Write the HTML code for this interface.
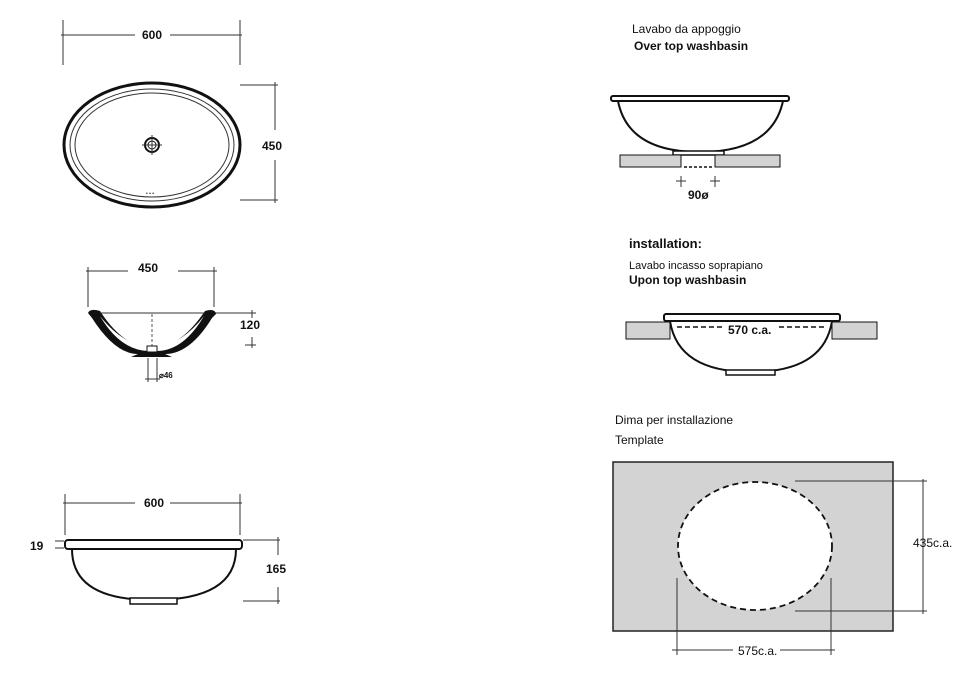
<!DOCTYPE html>
<html><head><meta charset="utf-8"><style>
html,body{margin:0;padding:0;background:#fff;width:963px;height:673px;overflow:hidden}
svg{display:block}
text{font-family:"Liberation Sans",Arial,sans-serif;fill:#111}
</style></head><body>
<svg width="963" height="673" viewBox="0 0 963 673" xmlns="http://www.w3.org/2000/svg">
<g stroke="#333" stroke-width="1" fill="none">
<!-- top view dims -->
<line x1="63" y1="20" x2="63" y2="65"/><line x1="240" y1="20" x2="240" y2="65"/>
<line x1="61" y1="35" x2="135" y2="35"/><line x1="170" y1="35" x2="242" y2="35"/>
<line x1="240" y1="85" x2="278" y2="85"/><line x1="240" y1="200" x2="278" y2="200"/>
<line x1="275" y1="82" x2="275" y2="130"/><line x1="275" y1="160" x2="275" y2="203"/>
</g>
<ellipse cx="152" cy="145" rx="88" ry="62" fill="#fff" stroke="#111" stroke-width="3"/>
<ellipse cx="152" cy="145" rx="82" ry="56" fill="none" stroke="#333" stroke-width="1"/>
<ellipse cx="152" cy="145" rx="77" ry="52" fill="none" stroke="#333" stroke-width="1"/>
<circle cx="152" cy="145" r="7" fill="none" stroke="#111" stroke-width="2"/>
<circle cx="152" cy="145" r="4" fill="none" stroke="#111" stroke-width="1"/>
<g stroke="#333"><line x1="142" y1="145" x2="162" y2="145"/><line x1="152" y1="135" x2="152" y2="155"/></g>
<text x="146" y="195" font-size="5">• • •</text>
<text x="142" y="39" font-size="12" font-weight="bold">600</text>
<text x="262" y="150" font-size="12" font-weight="bold">450</text>

<!-- section view -->
<g stroke="#333" stroke-width="1" fill="none">
<line x1="88" y1="267" x2="88" y2="307"/><line x1="214" y1="267" x2="214" y2="307"/>
<line x1="86" y1="271" x2="128" y2="271"/><line x1="178" y1="271" x2="217" y2="271"/>
<line x1="215" y1="313" x2="256" y2="313"/><line x1="245" y1="345" x2="256" y2="345"/>
<line x1="252" y1="310" x2="252" y2="318"/><line x1="252" y1="337" x2="252" y2="348"/>
<line x1="148" y1="358" x2="148" y2="382"/><line x1="157" y1="358" x2="157" y2="382"/>
<line x1="145" y1="379" x2="160" y2="379"/>
</g>
<path d="M88,313 Q90,308 100,311 Q122,345 148,348 L157,348 Q182,345 205,311 Q215,308 216,314 L212,318 Q190,354 165,354 L172,357 L131,357 L138,354 Q115,354 92,318 Z" fill="#111"/>
<path d="M100,316 Q122,344 148,347 L157,347 Q182,344 204,316 Q184,350 158,351 L148,351 Q120,350 100,316Z" fill="#fff"/>
<line x1="100" y1="313" x2="205" y2="313" stroke="#333"/>
<line x1="152" y1="314" x2="152" y2="347" stroke="#555" stroke-dasharray="3,2"/>
<rect x="147" y="346" width="10" height="6" fill="#fff" stroke="#111"/>
<text x="240" y="329" font-size="12" font-weight="bold">120</text>
<text x="138" y="272" font-size="12" font-weight="bold">450</text>
<text x="159" y="378" font-size="8" font-weight="bold">⌀46</text>

<!-- side view -->
<g stroke="#333" stroke-width="1" fill="none">
<line x1="65" y1="494" x2="65" y2="535"/><line x1="240" y1="494" x2="240" y2="535"/>
<line x1="63" y1="503" x2="135" y2="503"/><line x1="170" y1="503" x2="242" y2="503"/>
<line x1="243" y1="540" x2="280" y2="540"/><line x1="243" y1="601" x2="280" y2="601"/>
<line x1="278" y1="537" x2="278" y2="555"/><line x1="278" y1="587" x2="278" y2="604"/>
<line x1="55" y1="541" x2="64" y2="541"/><line x1="55" y1="548" x2="64" y2="548"/>
</g>
<path d="M72,549 Q72,600 152,600 Q236,600 236,549" fill="#fff" stroke="#111" stroke-width="2"/>
<rect x="130" y="598" width="47" height="6" fill="#fff" stroke="#111" stroke-width="1.5"/>
<rect x="65" y="540" width="177" height="9" rx="3" fill="#fff" stroke="#111" stroke-width="2"/>
<text x="144" y="507" font-size="12" font-weight="bold">600</text>
<text x="30" y="550" font-size="12" font-weight="bold">19</text>
<text x="266" y="573" font-size="12" font-weight="bold">165</text>

<!-- over top -->
<text x="632" y="33" font-size="12">Lavabo da appoggio</text>
<text x="634" y="50" font-size="12" font-weight="bold">Over top washbasin</text>
<path d="M618,101 Q628,152 700,152 Q772,152 783,101" fill="#fff" stroke="#111" stroke-width="2"/>
<rect x="673" y="151" width="51" height="4" fill="#fff" stroke="#111" stroke-width="1.5"/>
<rect x="611" y="96" width="178" height="5" rx="2" fill="#fff" stroke="#111" stroke-width="2"/>
<rect x="620" y="155" width="61" height="12" fill="#d3d3d3" stroke="#111"/>
<rect x="715" y="155" width="65" height="12" fill="#d3d3d3" stroke="#111"/>
<line x1="684" y1="167" x2="714" y2="167" stroke="#111" stroke-width="1.5" stroke-dasharray="3,2"/>
<g stroke="#333"><line x1="681" y1="176" x2="681" y2="187"/><line x1="676" y1="181" x2="686" y2="181"/>
<line x1="715" y1="176" x2="715" y2="187"/><line x1="710" y1="181" x2="720" y2="181"/></g>
<text x="688" y="199" font-size="12" font-weight="bold">90ø</text>

<!-- installation -->
<text x="629" y="248" font-size="13" font-weight="bold">installation:</text>
<text x="629" y="269" font-size="11">Lavabo incasso soprapiano</text>
<text x="629" y="284" font-size="12" font-weight="bold">Upon top washbasin</text>
<rect x="626" y="322" width="44" height="17" fill="#d3d3d3" stroke="#111"/>
<rect x="832" y="322" width="45" height="17" fill="#d3d3d3" stroke="#111"/>
<path d="M670,321 Q678,372 751,372 Q824,372 832,321" fill="#fff" stroke="#111" stroke-width="2"/>
<rect x="726" y="370" width="49" height="5" fill="#fff" stroke="#111" stroke-width="1.5"/>
<rect x="664" y="314" width="176" height="7" rx="2" fill="#fff" stroke="#111" stroke-width="2"/>
<line x1="677" y1="327" x2="725" y2="327" stroke="#111" stroke-width="1.5" stroke-dasharray="5,3"/>
<line x1="779" y1="327" x2="825" y2="327" stroke="#111" stroke-width="1.5" stroke-dasharray="5,3"/>
<text x="728" y="334" font-size="12" font-weight="bold">570 c.a.</text>

<!-- template -->
<text x="615" y="424" font-size="12">Dima per installazione</text>
<text x="615" y="444" font-size="12">Template</text>
<rect x="613" y="462" width="280" height="169" fill="#d3d3d3" stroke="#222" stroke-width="1.5"/>
<ellipse cx="755" cy="546" rx="77" ry="64" fill="#fff" stroke="#111" stroke-width="1.8" stroke-dasharray="6,4"/>
<g stroke="#333" stroke-width="1">
<line x1="795" y1="481" x2="927" y2="481"/><line x1="795" y1="611" x2="927" y2="611"/>
<line x1="923" y1="479" x2="923" y2="614"/>
<line x1="677" y1="578" x2="677" y2="655"/><line x1="831" y1="578" x2="831" y2="655"/>
<line x1="672" y1="650" x2="733" y2="650"/><line x1="780" y1="650" x2="835" y2="650"/>
</g>
<text x="913" y="547" font-size="12">435c.a.</text>
<text x="738" y="655" font-size="12">575c.a.</text>
</svg>
</body></html>
